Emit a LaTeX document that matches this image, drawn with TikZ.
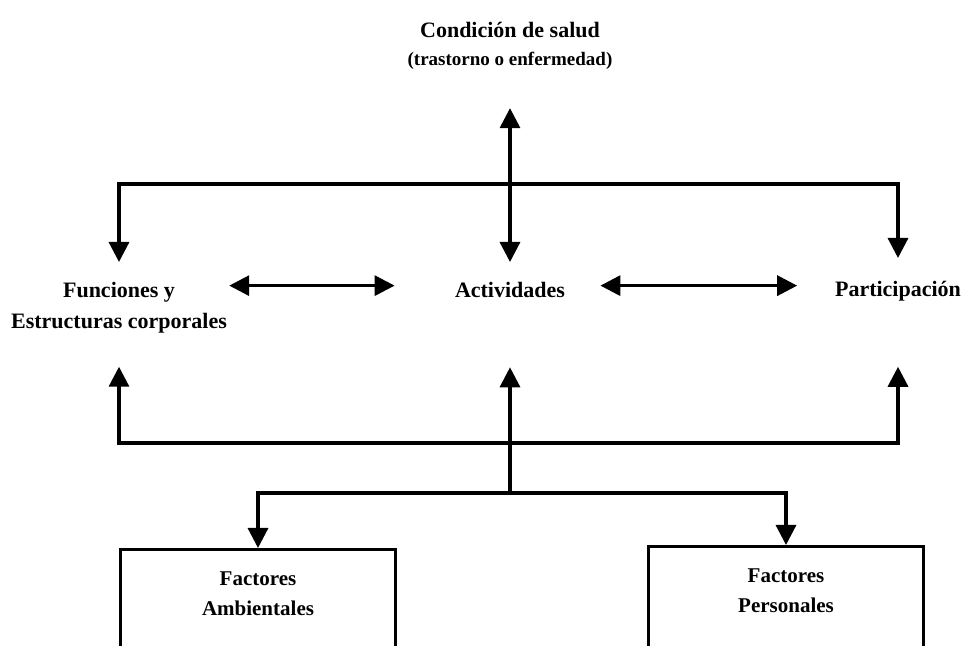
\documentclass[tikz,border=0pt]{standalone}
\usepackage{fontspec}
\setmainfont{Liberation Serif}
\usetikzlibrary{arrows.meta}

\begin{document}
\begin{tikzpicture}[
  x=0.5pt,y=-0.5pt,
  font=\bfseries\fontsize{11}{15.5}\selectfont,
  label/.style={inner sep=0pt,anchor=north},
  factor/.style={draw,line width=1.6pt,anchor=north,minimum width=137.5pt,
    inner xsep=0pt,inner ysep=11pt,text depth=60pt,
    font=\bfseries\fontsize{10.5}{15}\selectfont},
  link/.style={line width=1.6pt,line cap=rect},
  to/.style={-{Triangle[width=10pt,length=10pt]},line width=1.6pt},
  tofrom/.style={{Triangle[width=10pt,length=10pt]}-{Triangle[width=10pt,length=10pt]},line width=1.6pt},
  every node/.style={align=center}]

  % Canvas of the scanned page
  \useasboundingbox (0,0) rectangle (964,646);
  \clip (0,0) rectangle (964,646);

  % Position the nodes at page coordinates
  \node[label,font=\bfseries\fontsize{11}{14}\selectfont] (salud) at (510,22)
    {Condición de salud\\{\fontsize{9.5}{14}\selectfont (trastorno o enfermedad)}};
  \node[label] (func) at (119,282) {Funciones y\\Estructuras corporales};
  \node[label] (act) at (510,282) {Actividades};
  \node[label] (part) at (898,281) {Participación};
  \node[factor] (amb) at (258,548) {Factores\\Ambientales};
  \node[factor] (pers) at (786,545) {Factores\\Personales};

  \coordinate (topL) at (119,184);
  \coordinate (topR) at (898,184);
  \coordinate (botL) at (119,443);
  \coordinate (botR) at (898,443);
  \coordinate (fork) at (510,493);
  \coordinate (forkL) at (258,493);
  \coordinate (forkR) at (786,493);

  % Draw the arrows from the health condition to the three components
  \draw[tofrom,shorten <=19pt,shorten >=10pt] (salud) -- (act);
  \draw[link] (topL) -- (topR);
  \draw[to,shorten >=10pt] (topL) -- (func);
  \draw[to,shorten >=11.5pt] (topR) -- (part);

  % Arrows between the components
  \draw[tofrom,shorten <=30pt,shorten >=1pt] ([yshift=2.25pt]act.west) -- ([yshift=2.25pt]act.west -| func.east);
  \draw[tofrom,shorten <=17.5pt,shorten >=18.75pt] ([yshift=2.25pt]act.east) -- ([yshift=2.25pt]act.east -| part.west);

  % Contextual factors back up to the components
  \draw[link] (botL) -- (botR);
  \draw[to,shorten >=16.5pt] (botL) -- (func);
  \draw[to,shorten >=34.5pt] (fork) -- (act);
  \draw[to,shorten >=32.5pt] (botR) -- (part);
  \draw[link] (forkL) -- (forkR);
  \draw[to] (forkL) -- (amb);
  \draw[to] (forkR) -- (pers);
\end{tikzpicture}
\end{document}
